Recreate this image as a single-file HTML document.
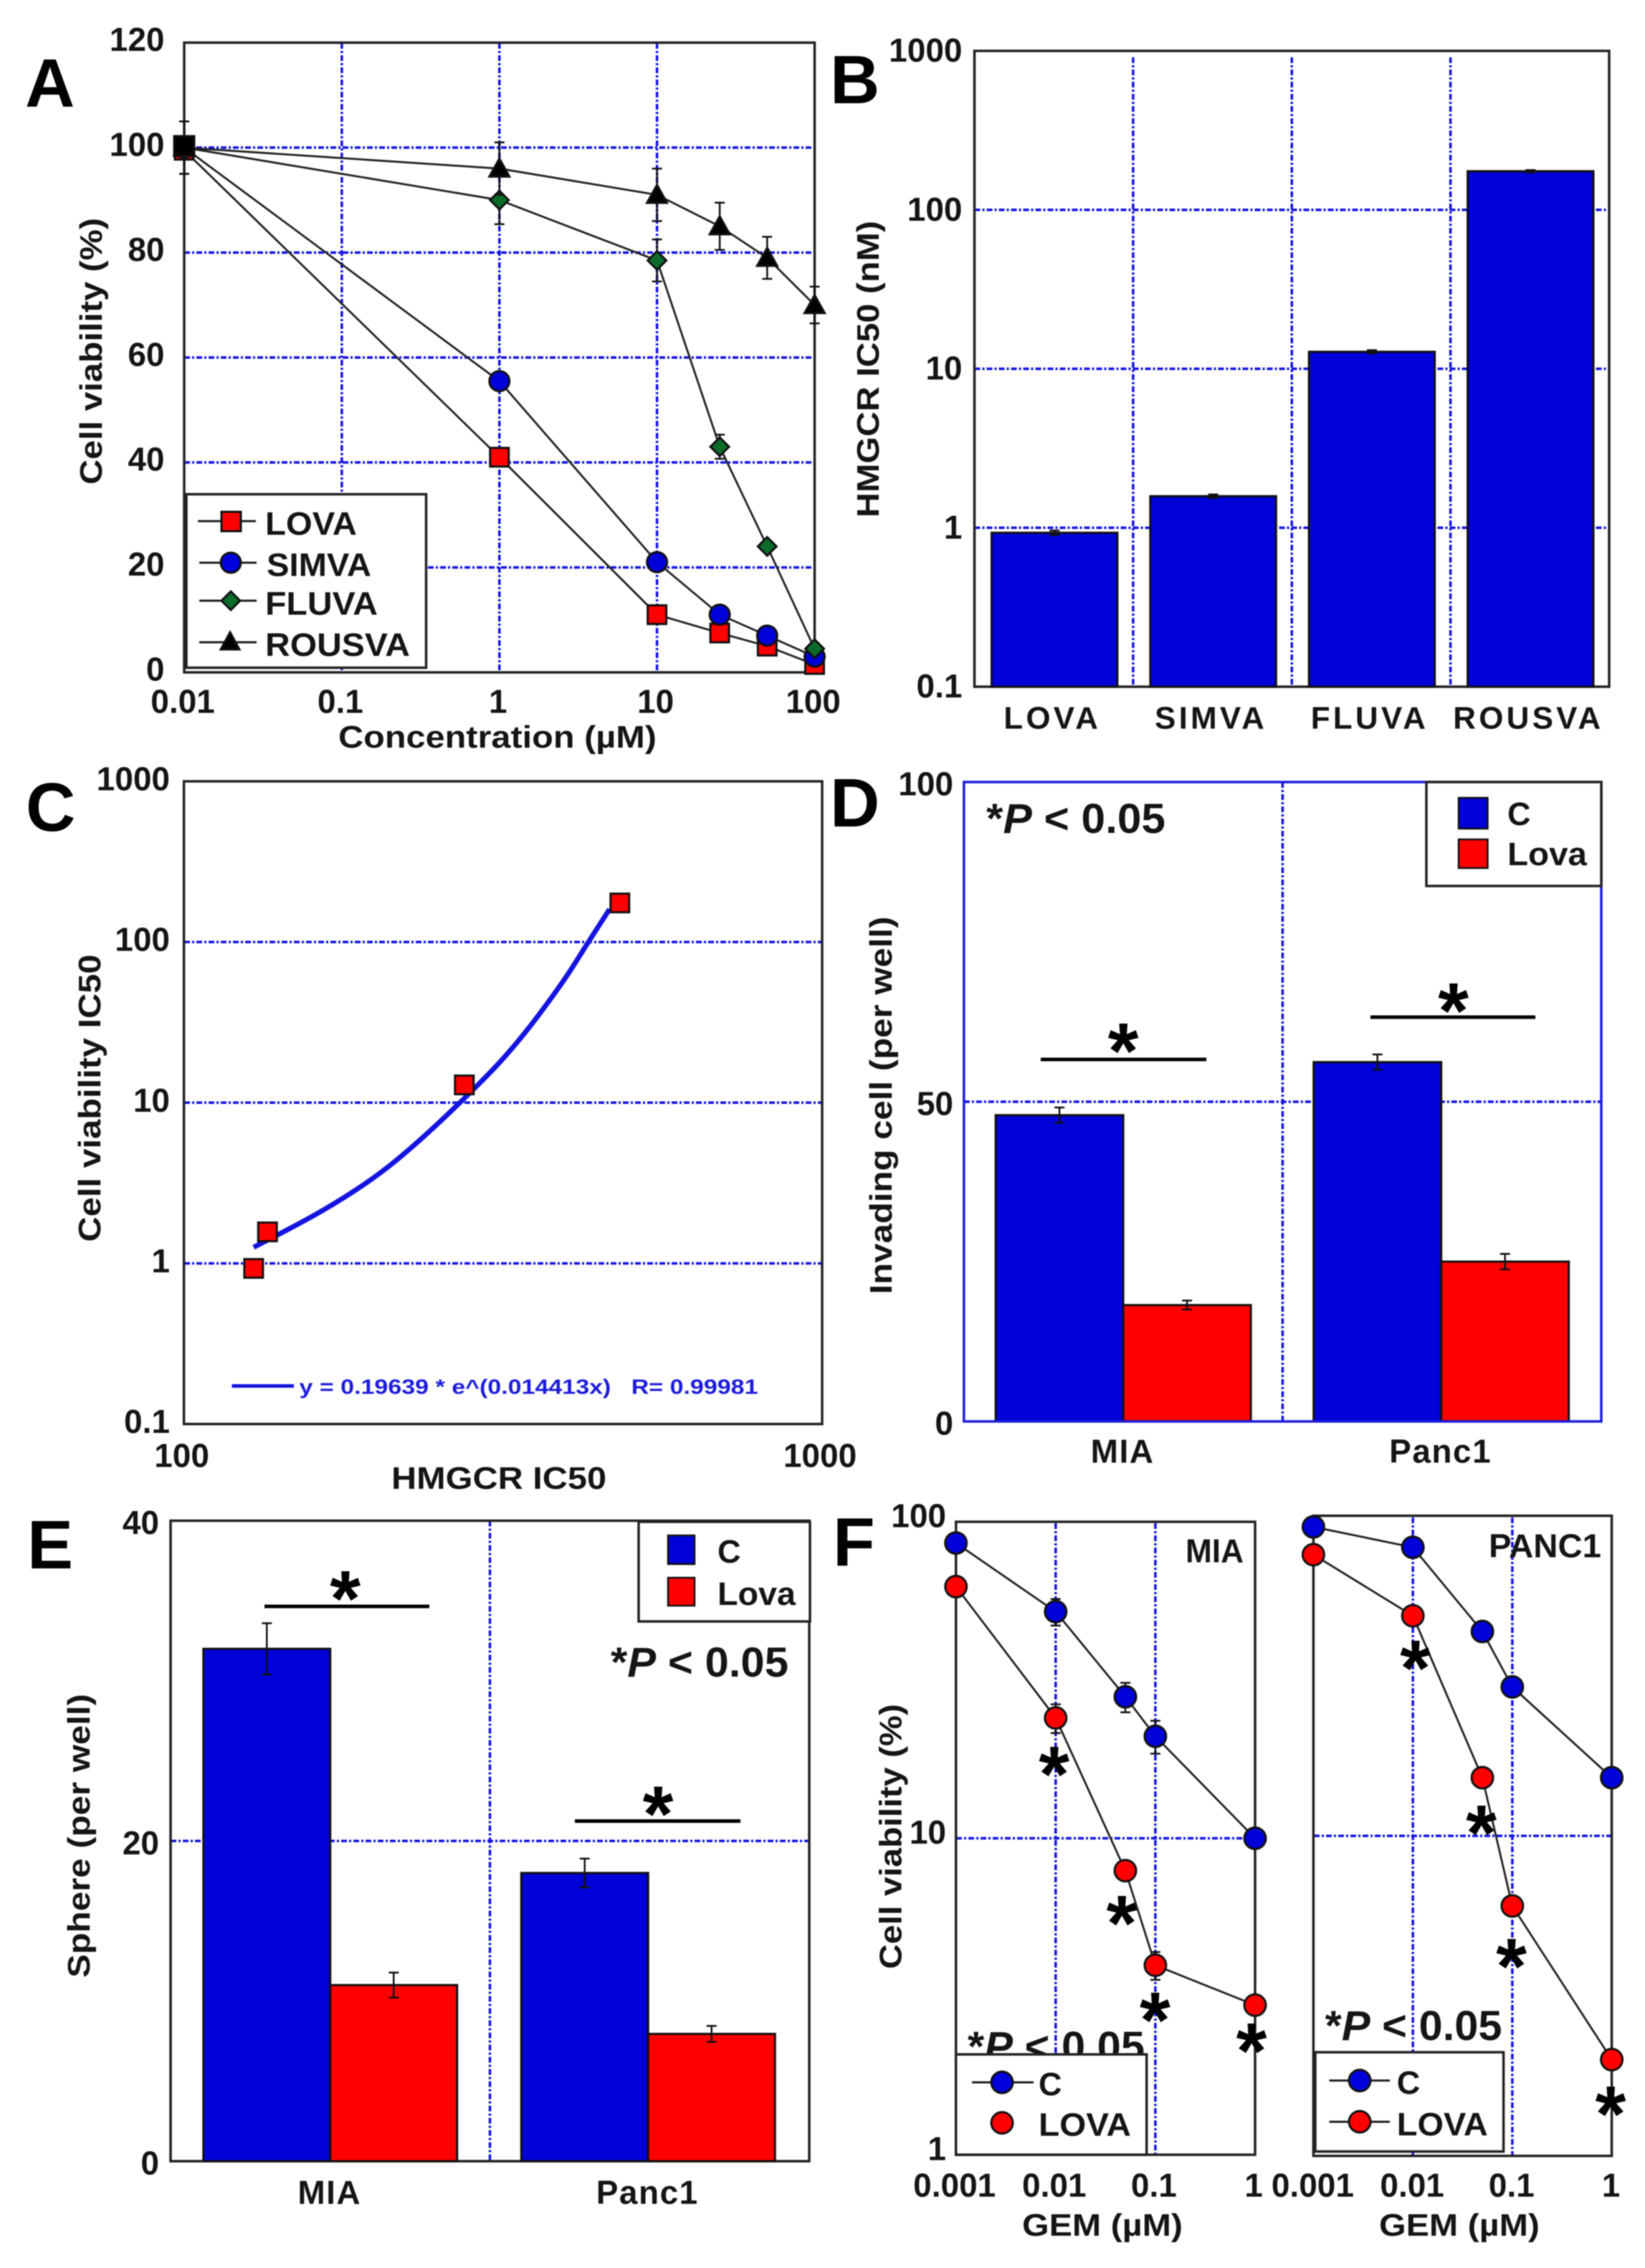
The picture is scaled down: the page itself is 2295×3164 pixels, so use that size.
<!DOCTYPE html>
<html lang="en">
<head>
<meta charset="utf-8">
<title>Statin panels A-F</title>
<style>
html,body{margin:0;padding:0;background:#fff;}
#figure{display:block;width:2295px;height:3164px;filter:blur(0.9px);}
text{font-family:"Liberation Sans",Arial,sans-serif;font-weight:bold;fill:#151515;}
.tick{font-size:46px;}
.cat{font-size:44px;letter-spacing:4.2px;}
.catb{font-size:46px;letter-spacing:1.5px;}
.title{font-size:44px;}
.letter{font-size:96px;fill:#000;}
.leg{font-size:45px;}
.p{font-size:58px;}
.star{font-size:110px;text-anchor:middle;fill:#000;}
.fit{font-size:29px;fill:#1c1cdc;}
.frame{fill:none;stroke:#222;stroke-width:3.5;}
.box{fill:#fff;stroke:#222;stroke-width:3.5;}
.sig{stroke:#000;stroke-width:5;}
.lgl{stroke:#222;stroke-width:3;}
.mk{stroke:#111;stroke-width:3;}
</style>
</head>
<body>
<svg id="figure" xmlns="http://www.w3.org/2000/svg" width="2295" height="3164" viewBox="0 0 2295 3164">
<rect x="0" y="0" width="2295" height="3164" fill="#fff"/>

<!-- PANEL A -->
<g>
  <g id="a-grid"></g>
  <rect class="frame" x="257" y="59.5" width="879.5" height="878.5"/>
  <g id="a-marks"></g>
  <g id="a-ticks"></g>
  <g>
    <rect class="box" x="260" y="689.5" width="334.5" height="242"/>
    <line class="lgl" x1="276" x2="357" y1="727" y2="727"/>
    <rect class="mk" x="309" y="714" width="27" height="27" fill="#f00"/>
    <text class="leg" x="370" y="730" dy=".36em" textLength="128" lengthAdjust="spacingAndGlyphs">LOVA</text>
    <line class="lgl" x1="278" x2="358" y1="785" y2="785"/>
    <circle class="mk" cx="322" cy="785" r="14" fill="#0000dc"/>
    <text class="leg" x="372" y="787.5" dy=".36em" textLength="146" lengthAdjust="spacingAndGlyphs">SIMVA</text>
    <line class="lgl" x1="278" x2="358" y1="838" y2="838"/>
    <path class="mk" d="M322 825L335 838L322 851L309 838Z" fill="#0c6b2a"/>
    <text class="leg" x="370" y="841.5" dy=".36em" textLength="157" lengthAdjust="spacingAndGlyphs">FLUVA</text>
    <line class="lgl" x1="278" x2="358" y1="896" y2="896"/>
    <path class="mk" d="M321 882L334 906L308 906Z" fill="#000"/>
    <text class="leg" x="370" y="899" dy=".36em" textLength="202" lengthAdjust="spacingAndGlyphs">ROUSVA</text>
  </g>
  <text class="letter" x="35" y="149">A</text>
  <text class="title" x="694" y="1027" dy=".36em" text-anchor="middle" textLength="444" lengthAdjust="spacingAndGlyphs">Concentration (µM)</text>
  <text class="title" transform="translate(126 490) rotate(-90)" dy=".36em" text-anchor="middle" textLength="372" lengthAdjust="spacingAndGlyphs">Cell viability (%)</text>
</g>

<!-- PANEL B -->
<g>
  <g id="b-grid"></g>
  <rect class="frame" x="1359.5" y="71" width="885.5" height="887"/>
  <g id="b-marks"></g>
  <g id="b-ticks"></g>
  <text class="letter" x="1158" y="144">B</text>
  <text class="title" transform="translate(1210 515) rotate(-90)" dy=".36em" text-anchor="middle" textLength="414" lengthAdjust="spacingAndGlyphs">HMGCR IC50 (nM)</text>
</g>

<!-- PANEL C -->
<g>
  <g id="c-grid"></g>
  <rect class="frame" x="256.6" y="1090" width="890.4" height="896.6"/>
  <g id="c-marks"></g>
  <g id="c-ticks"></g>
  <line x1="323.5" x2="410" y1="1933.5" y2="1933.5" stroke="#1414e0" stroke-width="5"/>
  <text class="fit" x="417.5" y="1934" dy=".36em" textLength="640" lengthAdjust="spacingAndGlyphs" xml:space="preserve">y = 0.19639 * e^(0.014413x)   R= 0.99981</text>
  <text class="letter" x="36" y="1159">C</text>
  <text class="title" x="696" y="2061" dy=".36em" text-anchor="middle" textLength="300" lengthAdjust="spacingAndGlyphs">HMGCR IC50</text>
  <text class="title" transform="translate(124 1532) rotate(-90)" dy=".36em" text-anchor="middle" textLength="401" lengthAdjust="spacingAndGlyphs">Cell viability IC50</text>
</g>

<!-- PANEL D -->
<g>
  <g id="d-grid"></g>
  <g id="d-marks"></g>
  <rect x="1344.8" y="1091" width="889.2" height="892" fill="none" stroke="#1c1cdc" stroke-width="3.5"/>
  <g id="d-ticks"></g>
  <line class="sig" x1="1452" x2="1683" y1="1478" y2="1478"/>
  <text class="star" x="1567" y="1504">*</text>
  <line class="sig" x1="1912" x2="2142" y1="1419" y2="1419"/>
  <text class="star" x="2027.6" y="1448">*</text>
  <text class="p" x="1376" y="1162" textLength="250" lengthAdjust="spacingAndGlyphs">*<tspan font-style="italic">P</tspan> &lt; 0.05</text>
  <g>
    <rect class="box" x="1990" y="1091" width="244" height="145"/>
    <rect x="2035" y="1113" width="40.5" height="43" fill="#0000d8" stroke="#111" stroke-width="2.5"/>
    <rect x="2035" y="1171" width="40.5" height="40" fill="#f00" stroke="#111" stroke-width="2.5"/>
    <text class="leg" x="2103" y="1135" dy=".36em">C</text>
    <text class="leg" x="2103" y="1191" dy=".36em" textLength="111" lengthAdjust="spacingAndGlyphs">Lova</text>
  </g>
  <text class="letter" x="1158" y="1153">D</text>
  <text class="title" transform="translate(1228 1542) rotate(-90)" dy=".36em" text-anchor="middle" textLength="527" lengthAdjust="spacingAndGlyphs">Invading cell (per well)</text>
</g>

<!-- PANEL E -->
<g>
  <g id="e-grid"></g>
  <rect class="frame" x="238" y="2121.5" width="891" height="893.5"/>
  <g id="e-marks"></g>
  <g id="e-ticks"></g>
  <line class="sig" x1="369" x2="599" y1="2241" y2="2241"/>
  <text class="star" x="481.7" y="2268">*</text>
  <line class="sig" x1="802" x2="1033" y1="2540.5" y2="2540.5"/>
  <text class="star" x="918" y="2568.5">*</text>
  <text class="p" x="852" y="2339" textLength="248" lengthAdjust="spacingAndGlyphs">*<tspan font-style="italic">P</tspan> &lt; 0.05</text>
  <g>
    <rect class="box" x="891" y="2123" width="239" height="139"/>
    <rect x="932" y="2142" width="37" height="40" fill="#0000d8" stroke="#111" stroke-width="2.5"/>
    <rect x="932" y="2201" width="37" height="39" fill="#f00" stroke="#111" stroke-width="2.5"/>
    <text class="leg" x="1001" y="2164" dy=".36em">C</text>
    <text class="leg" x="1001" y="2223" dy=".36em" textLength="109" lengthAdjust="spacingAndGlyphs">Lova</text>
  </g>
  <text class="letter" x="38" y="2188">E</text>
  <text class="title" transform="translate(109 2561) rotate(-90)" dy=".36em" text-anchor="middle" textLength="396" lengthAdjust="spacingAndGlyphs">Sphere (per well)</text>
</g>

<!-- PANEL F -->
<g>
  <g id="f1-grid"></g>
  <rect class="frame" x="1333.7" y="2123" width="417.3" height="883"/>
  <g id="f1-marks"></g>
  <g id="f2-grid"></g>
  <rect class="frame" x="1832.4" y="2114.6" width="416.2" height="893"/>
  <g id="f2-marks"></g>
  <g id="f-ticks"></g>
  <text class="star" x="1470.7" y="2513">*</text>
  <text class="star" x="1565" y="2721">*</text>
  <text class="star" x="1611.4" y="2856">*</text>
  <text class="star" x="1746" y="2899">*</text>
  <text class="star" x="1974.6" y="2365">*</text>
  <text class="star" x="2066.6" y="2595">*</text>
  <text class="star" x="2108.6" y="2781">*</text>
  <text class="star" x="2247" y="2987">*</text>
  <text class="p" x="1350" y="2875" textLength="247" lengthAdjust="spacingAndGlyphs">*<tspan font-style="italic">P</tspan> &lt; 0.05</text>
  <text class="p" x="1848.6" y="2846" textLength="247" lengthAdjust="spacingAndGlyphs">*<tspan font-style="italic">P</tspan> &lt; 0.05</text>
  <g>
    <rect class="box" x="1333.7" y="2866" width="266" height="140"/>
    <line class="lgl" x1="1356" x2="1442" y1="2905" y2="2905"/>
    <circle class="mk" cx="1398" cy="2905" r="15" fill="#0000dc"/>
    <text class="leg" x="1449" y="2907" dy=".36em">C</text>
    <circle class="mk" cx="1398" cy="2961.5" r="15" fill="#f00"/>
    <text class="leg" x="1449" y="2963.5" dy=".36em" textLength="129" lengthAdjust="spacingAndGlyphs">LOVA</text>
  </g>
  <g>
    <rect class="box" x="1835" y="2863" width="262.6" height="138.5"/>
    <line class="lgl" x1="1854.5" x2="1939" y1="2902.5" y2="2902.5"/>
    <circle class="mk" cx="1897" cy="2902.5" r="15" fill="#0000dc"/>
    <text class="leg" x="1948.8" y="2905" dy=".36em">C</text>
    <line class="lgl" x1="1854.5" x2="1939" y1="2960" y2="2960"/>
    <circle class="mk" cx="1897" cy="2960" r="15" fill="#f00"/>
    <text class="leg" x="1948.8" y="2963" dy=".36em" textLength="127" lengthAdjust="spacingAndGlyphs">LOVA</text>
  </g>
  <text class="letter" x="1162" y="2184">F</text>
  <text class="tick" x="1694.5" y="2163" dy=".36em" text-anchor="middle" textLength="81" lengthAdjust="spacingAndGlyphs">MIA</text>
  <text class="tick" x="2155.5" y="2156" dy=".36em" text-anchor="middle" textLength="157" lengthAdjust="spacingAndGlyphs">PANC1</text>
  <text class="title" x="1538" y="3103" dy=".36em" text-anchor="middle" textLength="224" lengthAdjust="spacingAndGlyphs">GEM (µM)</text>
  <text class="title" x="2036" y="3103" dy=".36em" text-anchor="middle" textLength="224" lengthAdjust="spacingAndGlyphs">GEM (µM)</text>
  <text class="title" transform="translate(1241.6 2562) rotate(-90)" dy=".36em" text-anchor="middle" textLength="370" lengthAdjust="spacingAndGlyphs">Cell viability (%)</text>
</g>
</svg>

<script>
/* ---------- Panel A data ---------- */
const aConcentration = [0.01, 1, 10, 25, 50, 100];
const aLova = [99.5, 41, 11, 7.5, 5, 1.5];
const aSimva = [100, 55.5, 21, 11, 7, 3];
const aFluva = [100, 90, 78.5, 43, 24, 4.5];
const aRousva = [100, 96, 91, 85, 79, 70];
const aFluvaErr = [5, 4.6, 4, 2.3, 0.5, 0.5];
const aRousvaErr = [5, 5, 5, 4.5, 4, 3.5];
const aYTicks = [0, 20, 40, 60, 80, 100, 120];
const aXTicks = ["0.01", "0.1", "1", "10", "100"];

/* ---------- Panel B data ---------- */
const bCategories = ["LOVA", "SIMVA", "FLUVA", "ROUSVA"];
const bValues = [0.93, 1.58, 12.8, 175];
const bErr = [0.03, 0.04, 0.3, 3];
const bYTicks = ["0.1", "1", "10", "100", "1000"];

/* ---------- Panel C data ---------- */
const cHmgcr = [128.6, 135.2, 275, 482];
const cViability = [0.93, 1.57, 12.9, 175];
const cFitX = [128.6, 147.3, 172.1, 201.2, 230.5, 274.6, 327.2, 389.9, 429.7, 464.4];
const cFitY = [1.26, 1.66, 2.34, 3.52, 5.48, 10.5, 21.4, 53.7, 99.3, 160];
const cYTicks = ["0.1", "1", "10", "100", "1000"];
const cXTicks = ["100", "1000"];

/* ---------- Panel D data ---------- */
const dCategories = ["MIA", "Panc1"];
const dControl = [47.9, 56.2];
const dLova = [18.2, 25];
const dControlErr = [1.2, 1.2];
const dLovaErr = [0.7, 1.2];
const dYTicks = [0, 50, 100];

/* ---------- Panel E data ---------- */
const eCategories = ["MIA", "Panc1"];
const eControl = [32, 18];
const eLova = [11, 7.95];
const eControlErr = [1.6, 0.9];
const eLovaErr = [0.78, 0.5];
const eYTicks = [0, 20, 40];

/* ---------- Panel F data ---------- */
const fGem = [0.001, 0.01, 0.05, 0.1, 1];
const fMiaControl = [85.7, 52, 28, 21, 10];
const fMiaLova = [62.4, 24, 7.9, 3.97, 2.97];
const fMiaControlErr = [4, 5, 3, 2.5, 0.7];
const fMiaLovaErr = [3, 2.5, 0.5, 0.4, 0.2];
const fPancControl = [92.3, 79.7, 43.5, 29.2, 15.2];
const fPancLova = [75.6, 48.7, 15.2, 6.04, 2];
const fYTicks = ["1", "10", "100"];
const fXTicks = ["0.001", "0.01", "0.1", "1"];

/* ---------- helpers ---------- */
const NS = "http://www.w3.org/2000/svg";
const BLUE = "#0000d8", RED = "#ff0000", GREEN = "#0c6b2a", GRID = "#1212e4";

function add(parent, tag, attrs, name) {
  const el = document.createElementNS(NS, tag);
  for (const k in attrs) el.setAttribute(k, attrs[k]);
  
  
  parent.appendChild(el);
  return el;
}
function linear(d0, d1, r0, r1) {
  return v => r0 + (v - d0) / (d1 - d0) * (r1 - r0);
}
function logScale(d0, d1, r0, r1) {
  return v => r0 + (Math.log10(v) - Math.log10(d0)) / (Math.log10(d1) - Math.log10(d0)) * (r1 - r0);
}
function gridH(g, y, x0, x1, name) {
  add(g, 'line', {x1: x0, x2: x1, y1: y, y2: y, stroke: GRID, 'stroke-width': 3.5, 'stroke-dasharray': '8 3 3 3'}, name);
}
function gridV(g, x, y0, y1, name) {
  add(g, 'line', {x1: x, x2: x, y1: y0, y2: y1, stroke: GRID, 'stroke-width': 3.5, 'stroke-dasharray': '8 3 3 3'}, name);
}
function tickLabel(g, x, y, str, anchor, name, cls) {
  const t = add(g, 'text', {x: x, y: y, dy: '.36em', 'text-anchor': anchor, 'class': cls || 'tick'}, name);
  t.textContent = str;
  return t;
}
function errorBar(g, x, yTop, yBottom, name) {
  const d = `M${x} ${yTop}V${yBottom}M${x - 7} ${yTop}H${x + 7}M${x - 7} ${yBottom}H${x + 7}`;
  add(g, 'path', {d: d, fill: 'none', stroke: '#111', 'stroke-width': 2.5}, name);
}
function marker(g, type, cx, cy, fill, r, name) {
  if (type === 'square') {
    add(g, 'rect', {x: cx - r, y: cy - r, width: 2 * r, height: 2 * r, fill: fill, 'class': 'mk'}, name);
  } else if (type === 'circle') {
    add(g, 'circle', {cx: cx, cy: cy, r: r, fill: fill, 'class': 'mk'}, name);
  } else if (type === 'diamond') {
    add(g, 'path', {d: `M${cx} ${cy - r}L${cx + r} ${cy}L${cx} ${cy + r}L${cx - r} ${cy}Z`, fill: fill, 'class': 'mk'}, name);
  } else {
    add(g, 'path', {d: `M${cx} ${cy - r}L${cx + r} ${cy + r * 0.8}L${cx - r} ${cy + r * 0.8}Z`, fill: fill, 'class': 'mk'}, name);
  }
}
function series(g, xs, ys, errs, sx, sy, type, fill, r, slug) {
  if (errs) {
    xs.forEach((x, i) => {
      errorBar(g, sx(x), sy(ys[i] + errs[i]), sy(ys[i] - errs[i]), slug + '-error-bar');
    });
  }
  const pts = xs.map((x, i) => sx(x) + ',' + sy(ys[i])).join(' ');
  add(g, 'polyline', {points: pts, fill: 'none', stroke: '#222', 'stroke-width': 2.8}, slug + '-line');
  xs.forEach((x, i) => {
    marker(g, type, sx(x), sy(ys[i]), fill, r, slug + '-point');
  });
}
function byId(id) { return document.getElementById(id); }

/* ---------- Panel A ---------- */
(function () {
  const x = logScale(0.01, 100, 257, 1136.5);
  const y = linear(0, 120, 938, 59.5);
  const grid = byId('a-grid'), marks = byId('a-marks'), ticks = byId('a-ticks');
  aYTicks.forEach(v => {
    if (v > 0 && v < 120) gridH(grid, y(v), 257, 1136, 'grid-line-y-' + v);
    tickLabel(ticks, 229.5, y(v) - 5, String(v), 'end', 'y-tick-' + v);
  });
  aXTicks.forEach(s => {
    const v = parseFloat(s);
    if (v > 0.01 && v < 100) gridV(grid, x(v), 60, 938, 'grid-line-x-' + s);
    tickLabel(ticks, x(v) - 2, 978, s, 'middle', 'x-tick-' + s);
  });
  series(marks, aConcentration, aLova, null, x, y, 'square', RED, 13, 'lova');
  series(marks, aConcentration, aSimva, null, x, y, 'circle', BLUE, 14, 'simva');
  series(marks, aConcentration, aFluva, aFluvaErr, x, y, 'diamond', GREEN, 13, 'fluva');
  series(marks, aConcentration, aRousva, aRousvaErr, x, y, 'triangle', '#000', 14, 'rousva');
  marker(marks, 'square', x(aConcentration[0]), y(aRousva[0]) - 2, '#000', 14, 'overlapping-start-point');
})();

/* ---------- Panel B ---------- */
(function () {
  const left = 1359.5, right = 2245, barW = 175.5;
  const y = logScale(0.1, 1000, 958, 71);
  const band = (right - left) / bCategories.length;
  const grid = byId('b-grid'), marks = byId('b-marks'), ticks = byId('b-ticks');
  bYTicks.forEach(s => {
    const v = parseFloat(s);
    if (v > 0.1 && v < 1000) gridH(grid, y(v), left, right, 'grid-line-y-' + s);
    tickLabel(ticks, 1342.5, y(v) - 1.5, s, 'end', 'y-tick-' + s);
  });
  bCategories.forEach((c, i) => {
    const cx = left + band * (i + 0.5) + 1;
    if (i > 0) gridV(grid, left + band * i, 80, 958, 'category-divider-' + i);
    add(marks, 'rect', {x: cx - barW / 2, y: y(bValues[i]), width: barW, height: 958 - y(bValues[i]), fill: BLUE, stroke: '#111', 'stroke-width': 3}, 'bar-' + c.toLowerCase());
    errorBar(marks, cx, y(bValues[i] + bErr[i]), y(bValues[i] - bErr[i]), 'error-bar-' + c.toLowerCase());
    tickLabel(ticks, cx - 3, 1000.5, c, 'middle', 'x-tick-' + c.toLowerCase(), 'cat');
  });
})();

/* ---------- Panel C ---------- */
(function () {
  const x = logScale(100, 1000, 256.6, 1147);
  const y = logScale(0.1, 1000, 1986.6, 1090);
  const grid = byId('c-grid'), marks = byId('c-marks'), ticks = byId('c-ticks');
  cYTicks.forEach(s => {
    const v = parseFloat(s);
    if (v > 0.1 && v < 1000) gridH(grid, y(v), 257, 1147, 'grid-line-y-' + s);
    tickLabel(ticks, 237, y(v) - 4, s, 'end', 'y-tick-' + s);
  });
  cXTicks.forEach(s => {
    tickLabel(ticks, x(parseFloat(s)) - 3, 2030, s, 'middle', 'x-tick-' + s);
  });
  /* smooth the read-off curve points with midpoint quadratics */
  const px = cFitX.map(v => x(v));
  const py = cFitY.map(v => y(v));
  let d = 'M' + px[0] + ' ' + py[0];
  for (let i = 1; i < px.length - 1; i++) {
    d += ' Q' + px[i] + ' ' + py[i] + ' ' + (px[i] + px[i + 1]) / 2 + ' ' + (py[i] + py[i + 1]) / 2;
  }
  d += ' L' + px[px.length - 1] + ' ' + py[px.length - 1];
  add(marks, 'path', {d: d, fill: 'none', stroke: '#1414e0', 'stroke-width': 7, 'stroke-linejoin': 'round'}, 'exponential-fit-curve');
  cHmgcr.forEach((v, i) => {
    marker(marks, 'square', x(v), y(cViability[i]), RED, 13, 'ic50-point');
  });
})();

/* ---------- grouped bars (Panels D, E) ---------- */
function groupedBars(cfg) {
  const y = linear(0, cfg.yMax, cfg.bottom, cfg.top);
  const band = (cfg.right - cfg.left) / cfg.categories.length;
  const grid = byId(cfg.id + '-grid'), marks = byId(cfg.id + '-marks'), ticks = byId(cfg.id + '-ticks');
  cfg.yTicks.forEach(v => {
    if (v > 0 && v < cfg.yMax) gridH(grid, y(v), cfg.left, cfg.right, 'grid-line-y-' + v);
    tickLabel(ticks, cfg.tickX, y(v) + 2, String(v), 'end', 'y-tick-' + v);
  });
  gridV(grid, cfg.left + band, cfg.top, cfg.bottom, 'category-divider');
  cfg.categories.forEach((c, i) => {
    const cx = cfg.left + band * (i + 0.5) - cfg.shift * i;
    const slug = c.toLowerCase();
    add(marks, 'rect', {x: cx - cfg.barW, y: y(cfg.control[i]), width: cfg.barW, height: cfg.bottom - y(cfg.control[i]), fill: BLUE, stroke: '#111', 'stroke-width': 3}, 'bar-control-' + slug);
    add(marks, 'rect', {x: cx, y: y(cfg.lova[i]), width: cfg.barW, height: cfg.bottom - y(cfg.lova[i]), fill: RED, stroke: '#111', 'stroke-width': 3}, 'bar-lova-' + slug);
    errorBar(marks, cx - cfg.barW / 2, y(cfg.control[i] + cfg.controlErr[i]), y(cfg.control[i] - cfg.controlErr[i]), 'error-bar-control-' + slug);
    errorBar(marks, cx + cfg.barW / 2, y(cfg.lova[i] + cfg.lovaErr[i]), y(cfg.lova[i] - cfg.lovaErr[i]), 'error-bar-lova-' + slug);
    tickLabel(ticks, cx - 1, cfg.labelY, c, 'middle', 'x-tick-' + slug, 'catb');
  });
}
groupedBars({id: 'd', categories: dCategories, control: dControl, lova: dLova, controlErr: dControlErr, lovaErr: dLovaErr,
  yTicks: dYTicks, yMax: 100, left: 1344.8, right: 2234, top: 1091, bottom: 1983, barW: 178, tickX: 1330, labelY: 2024, shift: 1});
groupedBars({id: 'e', categories: eCategories, control: eControl, lova: eLova, controlErr: eControlErr, lovaErr: eLovaErr,
  yTicks: eYTicks, yMax: 40, left: 238, right: 1129, top: 2121.5, bottom: 3015, barW: 177, tickX: 222, labelY: 3058, shift: 2});

/* ---------- Panel F ---------- */
(function () {
  const x1 = logScale(0.001, 1, 1333.7, 1751);
  const y1 = logScale(1, 100, 3006, 2123);
  const x2 = logScale(0.001, 1, 1832.4, 2248.6);
  const y2 = logScale(1, 100, 3007.7, 2114.6);
  const g1 = byId('f1-grid'), g2 = byId('f2-grid'), ticks = byId('f-ticks');
  fXTicks.forEach(s => {
    const v = parseFloat(s);
    if (v > 0.001 && v < 1) {
      gridV(g1, x1(v), 2125, 3006, 'mia-grid-line-x-' + s);
      gridV(g2, x2(v), 2117, 3006, 'panc1-grid-line-x-' + s);
    }
    tickLabel(ticks, x1(v) - 2, 3048, s, 'middle', 'mia-x-tick-' + s);
    tickLabel(ticks, x2(v) - 1, 3048, s, 'middle', 'panc1-x-tick-' + s);
  });
  fYTicks.forEach(s => {
    const v = parseFloat(s);
    if (v > 1 && v < 100) {
      gridH(g1, y1(v), 1334, 1751, 'mia-grid-line-y-' + s);
      gridH(g2, y2(v), 1833, 2248, 'panc1-grid-line-y-' + s);
    }
    tickLabel(ticks, 1320, y1(v) - 9, s, 'end', 'y-tick-' + s);
  });
  const m1 = byId('f1-marks'), m2 = byId('f2-marks');
  series(m1, fGem, fMiaControl, fMiaControlErr, x1, y1, 'circle', BLUE, 15, 'mia-control');
  series(m1, fGem, fMiaLova, fMiaLovaErr, x1, y1, 'circle', RED, 15, 'mia-lova');
  series(m2, fGem, fPancControl, null, x2, y2, 'circle', BLUE, 15, 'panc1-control');
  series(m2, fGem, fPancLova, null, x2, y2, 'circle', RED, 15, 'panc1-lova');
})();
</script>
</body>
</html>
